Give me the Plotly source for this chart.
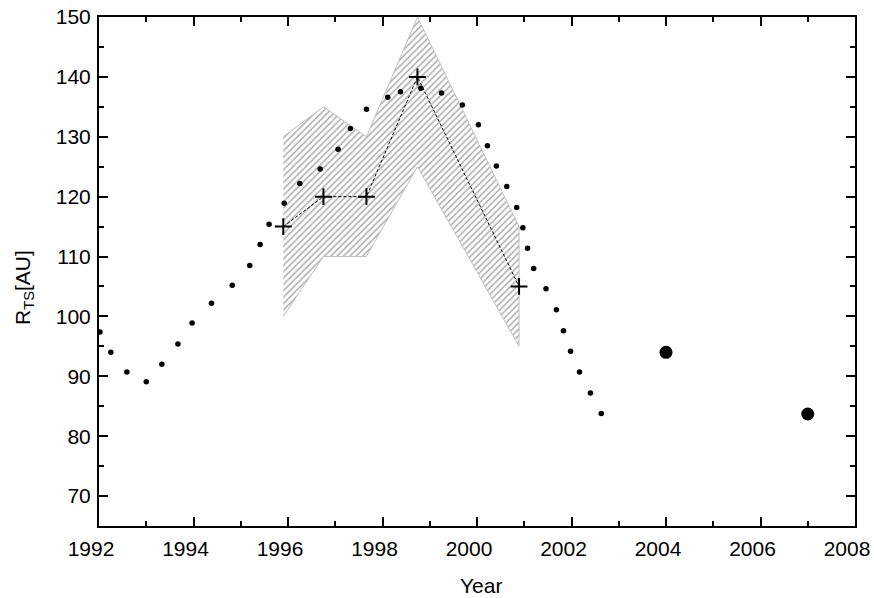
import plotly.graph_objects as go

# Dotted model curve (dot centres)
curve_years = [1992.02, 1992.25, 1992.59, 1993.00, 1993.33, 1993.67, 1993.97, 1994.38, 1994.82,
               1995.19, 1995.41, 1995.60, 1995.92, 1996.25, 1996.68, 1997.06, 1997.32, 1997.66,
               1998.11, 1998.38, 1998.81, 1999.25, 1999.69, 2000.03, 2000.22, 2000.41, 2000.63,
               2000.84, 2000.97, 2001.07, 2001.20, 2001.46, 2001.68, 2001.83, 2001.98, 2002.17,
               2002.40, 2002.63]
curve_rts = [97.4, 94.0, 90.7, 89.1, 92.0, 95.4, 98.9, 102.2, 105.2,
             108.5, 112.0, 115.4, 118.9, 122.2, 124.6, 127.9, 131.4, 134.6,
             136.6, 137.5, 138.1, 137.3, 135.3, 132.0, 128.5, 125.1, 121.7,
             118.2, 114.8, 111.4, 108.0, 104.6, 101.1, 97.6, 94.2, 90.7,
             87.2, 83.8]

# Estimates (crosses) with uncertainty band
est_years = [1995.9, 1996.75, 1997.66, 1998.74, 2000.89]
est_rts = [115, 120, 120, 140, 105]
band_upper = [130, 135, 130, 150, 115]
band_lower = [100, 110, 110, 125, 95]

# Voyager crossings
voy_years = [2004.0, 2007.0]
voy_rts = [94.0, 83.7]

x_ticks = [1992, 1994, 1996, 1998, 2000, 2002, 2004, 2006, 2008]
y_ticks = [70, 80, 90, 100, 110, 120, 130, 140, 150]

fig = go.Figure()

fig.add_trace(go.Scatter(
    x=est_years + est_years[::-1],
    y=band_upper + band_lower[::-1],
    fill="toself",
    mode="lines",
    line=dict(color="#c0c0c0", width=1),
    fillcolor="rgba(0,0,0,0)",
    fillpattern=dict(shape="/", fgcolor="#606060", bgcolor="white", size=4.5, solidity=0.35),
    hoverinfo="skip",
    showlegend=False,
))

fig.add_trace(go.Scatter(
    x=est_years, y=est_rts, mode="lines+markers",
    line=dict(color="black", width=1, dash="3px,2px"),
    marker=dict(symbol="cross-thin", size=12, line=dict(color="black", width=2)),
    showlegend=False,
))

fig.add_trace(go.Scatter(
    x=curve_years, y=curve_rts, mode="markers",
    marker=dict(symbol="circle", size=5.5, color="black"),
    showlegend=False,
))

fig.add_trace(go.Scatter(
    x=voy_years, y=voy_rts, mode="markers",
    marker=dict(symbol="circle", size=13, color="black"),
    showlegend=False,
))

axis_font = dict(family="Arial, Liberation Sans, sans-serif", size=21, color="black")

fig.update_xaxes(
    range=[1992, 2008], tickvals=x_ticks, ticktext=[str(v) for v in x_ticks],
    ticks="inside", ticklen=9, tickwidth=1.5, tickcolor="black",
    minor=dict(ticks="inside", ticklen=5, tickwidth=1.5, tickcolor="black", dtick=1, tick0=1992),
    showline=True, linewidth=2, linecolor="black", mirror="ticks",
    showgrid=False, zeroline=False, tickfont=axis_font,
    ticklabelstandoff=3, ticklabelshift=-8, ticklabeloverflow="allow",
)
fig.update_yaxes(
    range=[65, 150], tickvals=y_ticks, ticktext=[str(v) for v in y_ticks],
    ticks="inside", ticklen=9, tickwidth=1.5, tickcolor="black",
    minor=dict(ticks="inside", ticklen=5, tickwidth=1.5, tickcolor="black", dtick=5, tick0=65),
    showline=True, linewidth=2, linecolor="black", mirror="ticks",
    showgrid=False, zeroline=False, tickfont=axis_font,
    ticklabelstandoff=2, ticklabeloverflow="allow",
)

fig.add_annotation(
    text="R<sub>TS</sub>[AU]", xref="paper", yref="paper", x=0, y=0.4676,
    xshift=-75, textangle=-90, showarrow=False, font=axis_font,
    xanchor="center", yanchor="middle",
)
fig.add_annotation(
    text="Year", xref="paper", yref="paper", x=0.5, y=0, xshift=4, yshift=-59,
    showarrow=False, font=axis_font, xanchor="center", yanchor="middle",
)

fig.update_layout(
    width=874, height=598,
    margin=dict(l=99, r=19, t=17, b=72, autoexpand=False),
    paper_bgcolor="white", plot_bgcolor="white",
    font=axis_font,
)

fig.write_html("out.html", config={"displayModeBar": False},
               post_script="document.body.style.margin='0px';")
